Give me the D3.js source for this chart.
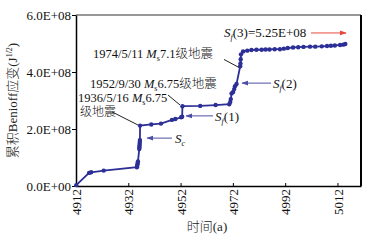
<!DOCTYPE html>
<html>
<head>
<meta charset="utf-8">
<script src="https://cdn.jsdelivr.net/npm/d3@7"></script>
<style>
  body { margin: 0; background: #fff; }
  text { font-family: "Liberation Serif", "Noto Sans CJK SC", serif; font-weight: 300; }
</style>
</head>
<body>
<script>
// cumulative Benioff strain, values in units of 1e8 J^(1/2)
var years = [4912.1, 4917.0, 4917.8, 4922.6, 4935.3, 4935.4, 4935.5, 4935.6, 4935.7,
    4936.2, 4936.25, 4936.3, 4936.35, 4936.4, 4936.45, 4936.5,
    4940.8, 4944.5, 4948.7, 4950.0, 4952.2, 4952.6, 4952.7,
    4959.5, 4965.4, 4970.6, 4971.0, 4971.2, 4971.5, 4972.1, 4972.5, 4972.8, 4973.4,
    4974.8, 4974.9, 4975.0, 4975.1, 4975.9, 4977.5, 4979.1, 4981.0, 4983.0, 4984.5,
    4986.0, 4988.0, 4990.0, 4991.5, 4993.0, 4995.0, 4997.0, 4999.0, 5001.5, 5003.5,
    5006.0, 5008.0, 5009.5, 5011.0, 5013.0, 5014.2, 5015.0];
var values = [0.03, 0.46, 0.48, 0.54, 0.66, 0.70, 0.76, 0.82, 0.86,
    1.30, 1.36, 1.42, 1.48, 1.55, 1.61, 2.12,
    2.16, 2.19, 2.32, 2.35, 2.41, 2.43, 2.80,
    2.81, 2.84, 2.87, 2.95, 3.05, 3.25, 3.30, 3.40, 3.50, 3.58,
    4.20, 4.30, 4.45, 4.62, 4.72, 4.75, 4.77, 4.78, 4.78, 4.79,
    4.79, 4.80, 4.80, 4.82, 4.84, 4.86, 4.87, 4.88, 4.89, 4.89,
    4.90, 4.91, 4.92, 4.93, 4.95, 4.96, 4.98];
var xTicks = [4912, 4932, 4952, 4972, 4992, 5012];
var yTicks = [0, 2e8, 4e8, 6e8];

var width = 368, height = 241,
    margin = { top: 15, right: 7, bottom: 55, left: 76 };

var data = years.map((d, i) => ({ year: d, value: values[i] * 1e8 }));

var svg = d3.select('body').append('svg')
    .attr('width', width)
    .attr('height', height);

var x = d3.scaleLinear()
    .domain([4912, 5021])
    .range([margin.left, width - margin.right]);

var y = d3.scaleLinear()
    .domain([0, 6e8])
    .range([height - margin.bottom, margin.top]);

var blue = '#2c2f96';

svg.append('defs').selectAll('marker')
    .data([['arrL', '#4b4da6'], ['arrR', '#e8473d']])
    .join('marker')
    .attr('id', d => d[0])
    .attr('viewBox', '0 0 10 10')
    .attr('refX', 9).attr('refY', 5)
    .attr('markerWidth', 7).attr('markerHeight', 7)
    .attr('orient', 'auto-start-reverse')
    .append('path')
    .attr('d', 'M0,1.5L10,5L0,8.5z')
    .attr('fill', d => d[1]);

// frame
svg.append('line')
    .attr('x1', x(4912)).attr('x2', x(5021))
    .attr('y1', y(6e8)).attr('y2', y(6e8))
    .attr('stroke', '#333').attr('stroke-width', 1);
svg.append('line')
    .attr('x1', x(5021)).attr('x2', x(5021))
    .attr('y1', y(6e8)).attr('y2', y(0))
    .attr('stroke', '#000').attr('stroke-width', 2);

var xAxis = svg.append('g')
    .attr('transform', `translate(0,${y(0)})`)
    .call(d3.axisBottom(x).tickValues(xTicks).tickSize(-3).tickSizeOuter(0).tickFormat(d3.format('d')));
xAxis.select('.domain').attr('stroke-width', 1.5);
xAxis.selectAll('text')
    .attr('transform', 'rotate(-90)')
    .attr('text-anchor', 'end')
    .attr('x', -3).attr('y', 0).attr('dy', '0.35em')
    .attr('font-size', 13).attr('font-family', 'Liberation Serif').attr('fill', '#111');

var yAxis = svg.append('g')
    .attr('transform', `translate(${x(4912)},0)`)
    .call(d3.axisLeft(y).tickValues(yTicks).tickSize(4).tickSizeOuter(0).tickPadding(1)
        .tickFormat(d => d === 0 ? '0.0E+00' : (d / 1e8).toFixed(1) + 'E+08'));
yAxis.select('.domain').attr('stroke-width', 1.5);
yAxis.selectAll('text')
    .attr('font-size', 13).attr('font-family', 'Liberation Serif').attr('fill', '#111');

// axis titles
var yt = svg.append('text')
    .attr('transform', `translate(17,${(y(0) + y(6e8)) / 2}) rotate(-90)`)
    .attr('text-anchor', 'middle')
    .attr('font-size', 13).attr('fill', '#222');
yt.append('tspan').text('累积Benioff应变(J');
yt.append('tspan').attr('font-size', 8).attr('dy', -5).text('1/2');
yt.append('tspan').attr('dy', 5).text(')');

svg.append('text')
    .attr('x', 207).attr('y', 231)
    .attr('text-anchor', 'middle')
    .attr('font-size', 13).attr('fill', '#222')
    .text('时间(a)');

// data line
var line = d3.line()
    .x(d => x(d.year))
    .y(d => y(d.value));

svg.append('path')
    .datum(data)
    .attr('d', line)
    .attr('fill', 'none')
    .attr('stroke', blue)
    .attr('stroke-width', 1.8);

svg.append('g').selectAll('circle')
    .data(data)
    .join('circle')
    .attr('cx', d => x(d.year))
    .attr('cy', d => y(d.value))
    .attr('r', 2.2)
    .attr('fill', blue);

// annotations (year, value in 1e8)
function P(yr, v) { return [x(yr), y(v * 1e8)]; }

function label(yr, v, parts, size) {
    var p = P(yr, v);
    var t = svg.append('text').attr('x', p[0]).attr('y', p[1])
        .attr('font-size', size || 12.5).attr('fill', '#111');
    parts.forEach(s => {
        var ts = t.append('tspan').text(s.t);
        if (s.i) ts.attr('font-style', 'italic');
        if (s.sub) ts.attr('font-size', 8).attr('dy', 3);
        if (s.up) ts.attr('dy', -3);
    });
}

function seg(a, b, color, marker) {
    var pa = P(a[0], a[1]), pb = P(b[0], b[1]);
    var l = svg.append('line')
        .attr('x1', pa[0]).attr('y1', pa[1])
        .attr('x2', pb[0]).attr('y2', pb[1])
        .attr('stroke', color).attr('stroke-width', 1);
    if (marker) l.attr('marker-end', `url(#${marker})`);
}

label(4968.6, 5.23, [{ t: 'S', i: 1 }, { t: 'f', i: 1, sub: 1 }, { t: '(3)=5.25E+08', up: 1 }], 13);
seg([5001.9, 5.37], [5015.3, 5.37], '#e8473d', 'arrR');

label(4918.5, 4.48, [{ t: '1974/5/11 ' }, { t: 'M', i: 1 }, { t: 's', sub: 1 }, { t: '7.1级地震', up: 1 }]);
seg([4968.6, 4.44], [4974.3, 4.16], '#222');

label(4917.4, 3.44, [{ t: '1952/9/30 ' }, { t: 'M', i: 1 }, { t: 's', sub: 1 }, { t: '6.75级地震', up: 1 }]);
seg([4947.2, 3.19], [4951.8, 2.84], '#222');

label(4912.8, 2.93, [{ t: '1936/5/16 ' }, { t: 'M', i: 1 }, { t: 's', sub: 1 }, { t: '6.75', up: 1 }]);
label(4913.5, 2.44, [{ t: '级地震' }], 12);
seg([4925.8, 2.60], [4935.7, 2.14], '#222');

seg([4948.7, 1.68], [4939.2, 1.68], '#4b4da6', 'arrL');
label(4949.9, 1.51, [{ t: 'S', i: 1 }, { t: 'c', i: 1, sub: 1 }], 13);

seg([4964.4, 2.46], [4954.1, 2.46], '#4b4da6', 'arrL');
label(4965.2, 2.28, [{ t: 'S', i: 1 }, { t: 'f', i: 1, sub: 1 }, { t: '(1)', up: 1 }], 13);

seg([4986.6, 3.61], [4975.5, 3.61], '#4b4da6', 'arrL');
label(4987.3, 3.44, [{ t: 'S', i: 1 }, { t: 'f', i: 1, sub: 1 }, { t: '(2)', up: 1 }], 13);
</script>
</body>
</html>
